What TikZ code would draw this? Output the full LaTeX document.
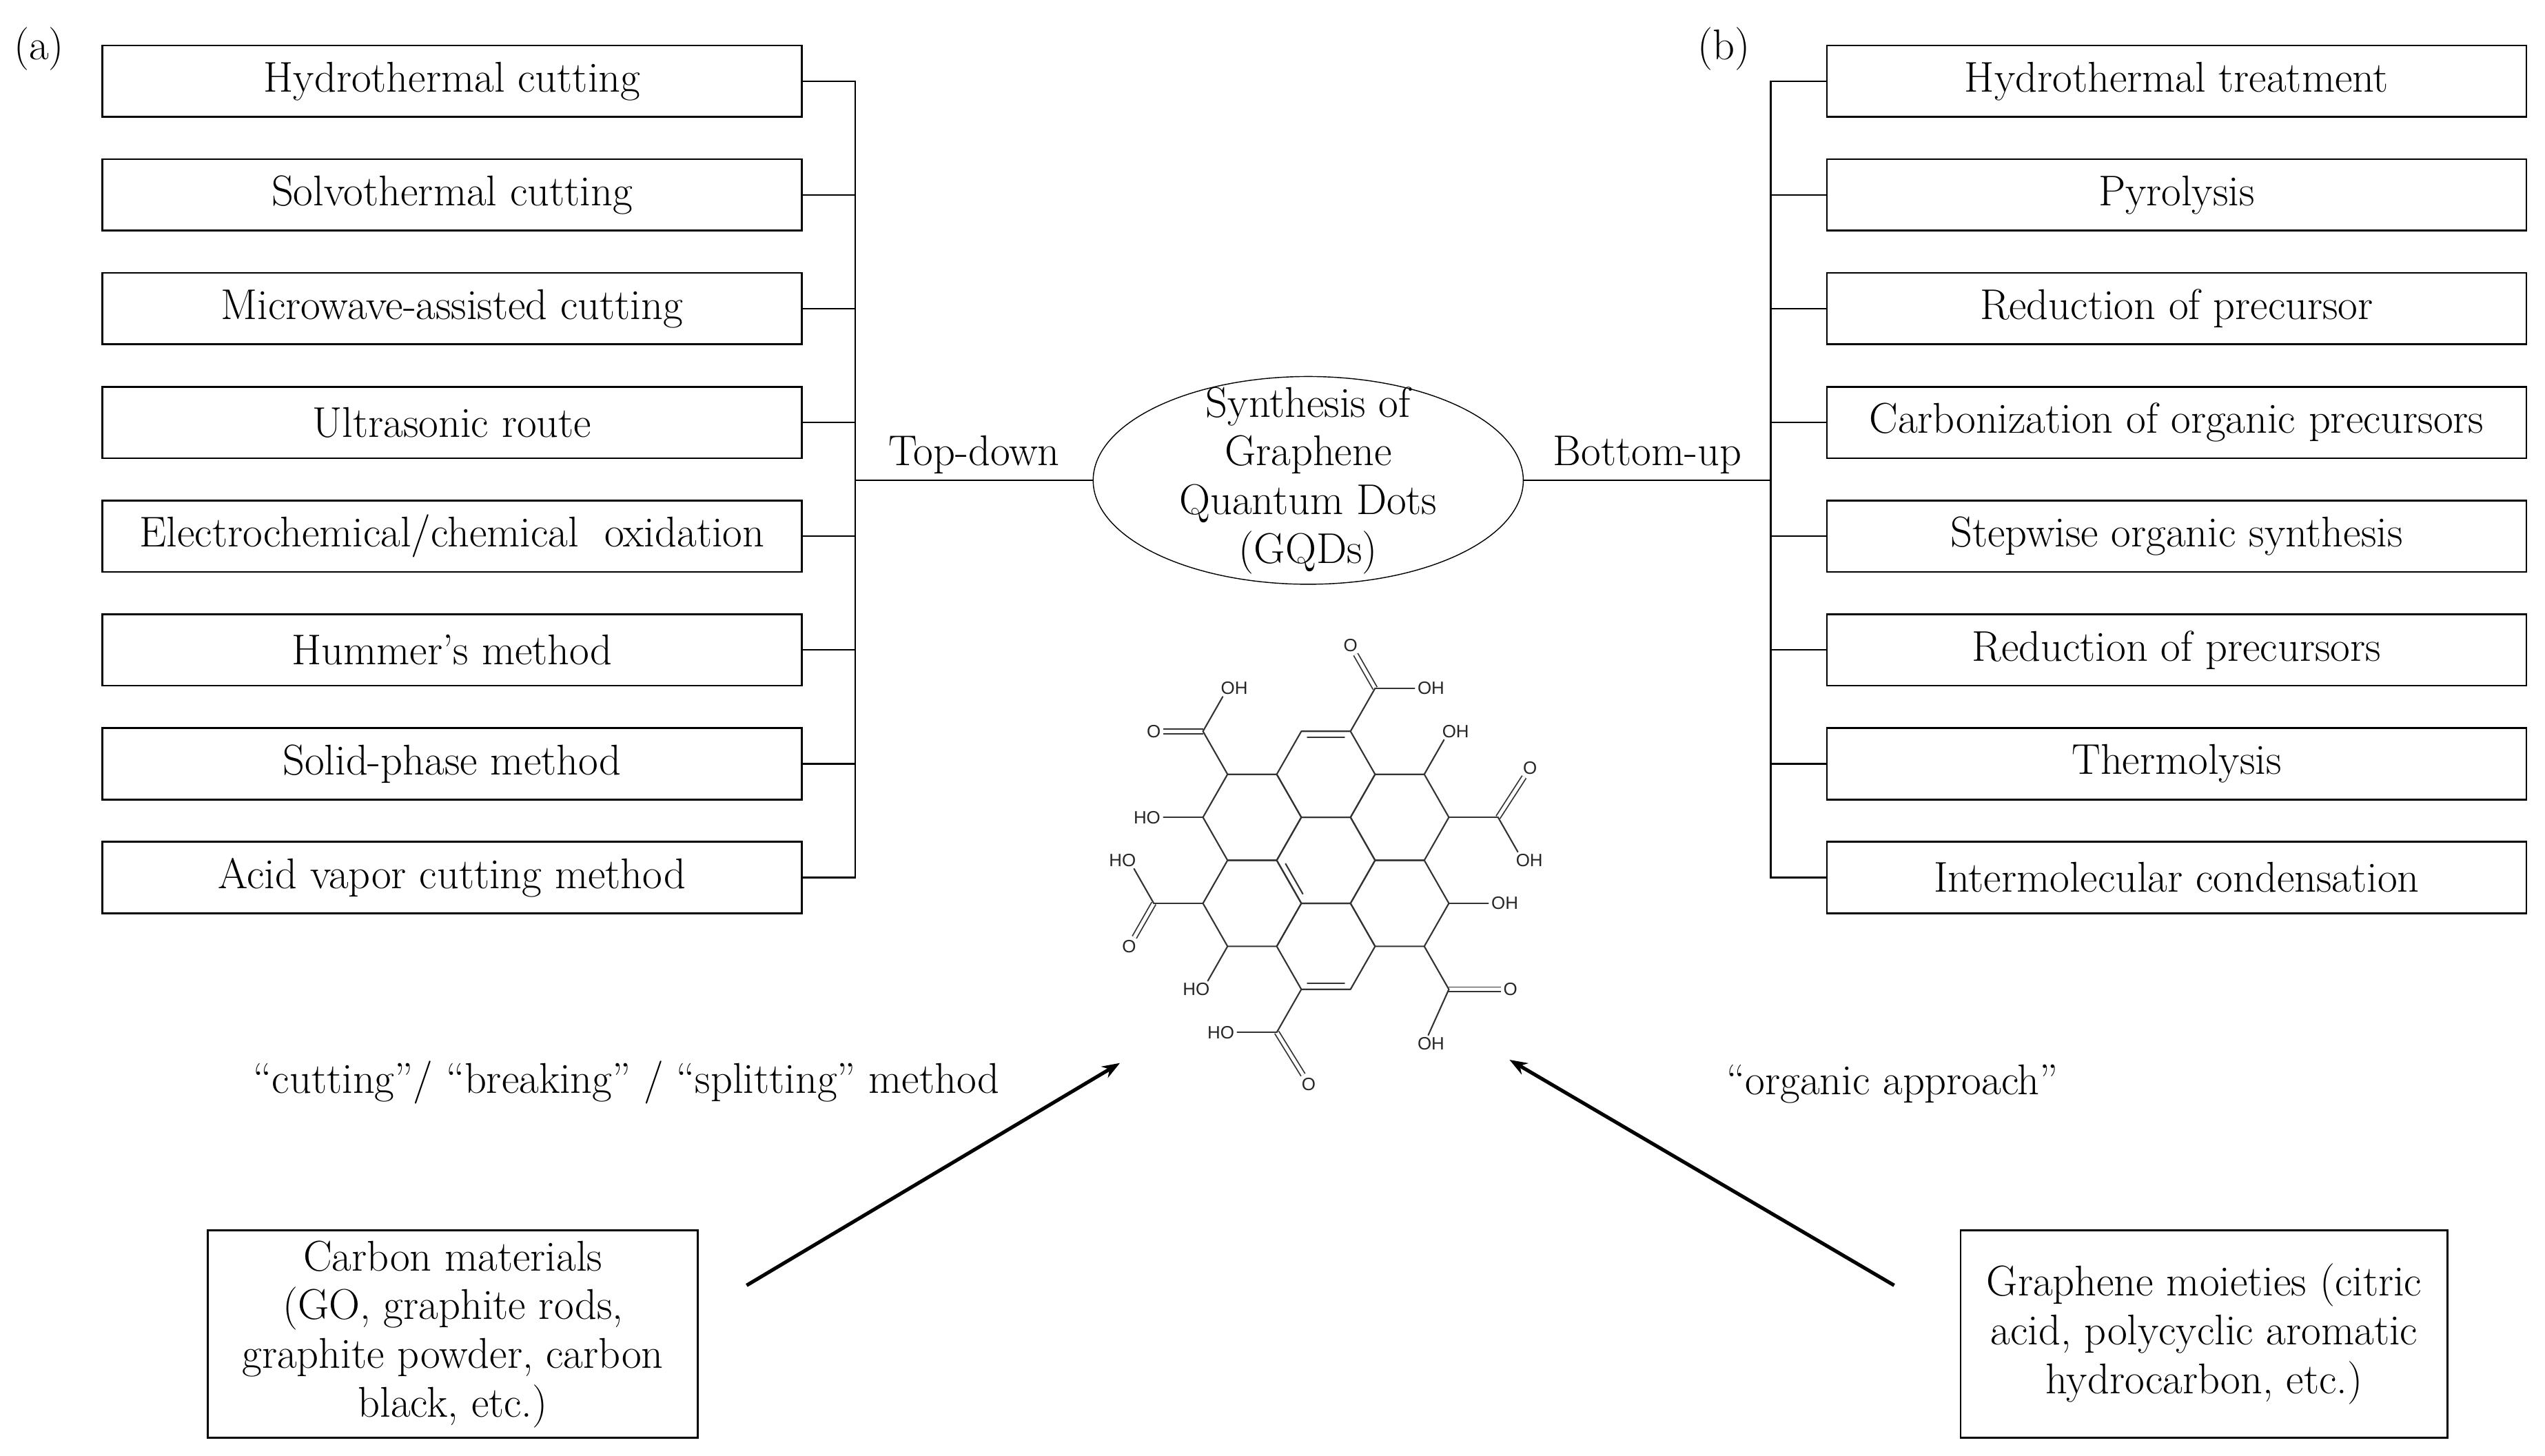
\documentclass[tikz,border=0pt]{standalone}
\usepackage{fontspec}
\newfontfamily\chemfont{Liberation Sans}
\usetikzlibrary{positioning,shapes.geometric,arrows.meta}

\begin{document}
\begin{tikzpicture}[x=1pt, y=-1pt, node distance=25pt,
  every node/.style = {font=\fontsize{26.5}{30}\selectfont},
  method/.style = {shape=rectangle, draw, line width=1.1pt, minimum width=431pt, minimum height=44pt, inner sep=0pt},
  source/.style = {shape=rectangle, draw, line width=1.1pt, minimum height=128pt, inner sep=0pt, align=center},
  link/.style = {line width=1pt},
  route/.style = {line width=2.2pt, -{Stealth[length=11pt, width=8pt]}},
  bond/.style = {line width=0.9pt, black!80, line cap=round},
  dbond/.style = {black!80, double, double distance=2.1pt, line width=0.75pt},
  atom/.style = {font=\chemfont\fontsize{11}{11}\selectfont, inner sep=1.5pt, text=black!85},
  oh/.style = {atom, anchor=west, xshift=-5.8pt},
  ho/.style = {atom, anchor=east, xshift=5.8pt}]

\useasboundingbox (0,0) rectangle (1568,897);

% top-down routes
\node[method] (l1) at (278.5,50) {Hydrothermal cutting};
\node[method, below=of l1] (l2) {Solvothermal cutting};
\node[method, below=of l2] (l3) {Microwave-assisted cutting};
\node[method, below=of l3] (l4) {Ultrasonic route};
\node[method, below=of l4] (l5) {Electrochemical/chemical\ \ oxidation};
\node[method, below=of l5] (l6) {Hummer’s method};
\node[method, below=of l6] (l7) {Solid-phase method};
\node[method, below=of l7] (l8) {Acid vapor cutting method};

% bottom-up routes
\node[method] (r1) at (1341,50) {Hydrothermal treatment};
\node[method, below=of r1] (r2) {Pyrolysis};
\node[method, below=of r2] (r3) {Reduction of precursor};
\node[method, below=of r3] (r4) {Carbonization of organic precursors};
\node[method, below=of r4] (r5) {Stepwise organic synthesis};
\node[method, below=of r5] (r6) {Reduction of precursors};
\node[method, below=of r6] (r7) {Thermolysis};
\node[method, below=of r7] (r8) {Intermolecular condensation};

\node[ellipse, draw, line width=0.6pt, minimum width=265pt, minimum height=128pt,
  inner xsep=0pt, inner ysep=-14pt, align=center] (gqd) at (806,296)
  {Synthesis of\\Graphene\\Quantum Dots\\(GQDs)};

\node (tagA) at (24,30) {(a)};
\node (tagB) at (1062,30) {(b)};

% brackets
\coordinate (lspine) at (527,296);
\coordinate (rspine) at (1091,296);
\draw[link] (l1.east) -- (l1.east -| lspine) -- (l8.east -| lspine) -- (l8.east);
\foreach \i in {2,...,7} \draw[link] (l\i.east) -- (l\i.east -| lspine);
\draw[link] (r1.west) -- (r1.west -| rspine) -- (r8.west -| rspine) -- (r8.west);
\foreach \i in {2,...,7} \draw[link] (r\i.west) -- (r\i.west -| rspine);
\draw[link] (lspine) -- node[above] {Top-down} (gqd.west);
\draw[link] (gqd.east) -- node[above] {Bottom-up} (rspine);

% sources
\node (cutting) at (386,667) {“cutting”/ “breaking” / “splitting” method};
\node (organic) at (1166,668) {“organic approach”};
\node[source, minimum width=302pt] (carbon) at (279,822)
  {Carbon materials\\(GO, graphite rods,\\graphite powder, carbon\\black, etc.)};
\node[source, minimum width=300pt] (moiety) at (1358,822)
  {Graphene moieties (citric\\acid, polycyclic aromatic\\hydrocarbon, etc.)};
\coordinate (cutStart) at (460,792);
\coordinate (cutEnd) at (690,655);
\coordinate (orgStart) at (1167,792);
\coordinate (orgEnd) at (930,653);
\draw[route] (cutStart) -- (cutEnd);
\draw[route] (orgStart) -- (orgEnd);

% graphene quantum dot
\begin{scope}[shift={(816.9,530.1)}, x=15.15pt, y=-26.5pt]
  \coordinate (c1) at (-5,-3);
  \coordinate (c3) at (-7,1);
  \coordinate (c5) at (-2,4);
  \coordinate (c6) at (5,3);
  \coordinate (c8) at (7,-1);
  \coordinate (c10) at (2,-4);
  \node[atom] (o1) at (-7,-3) {O};
  \node[atom] (o3) at (-8,2) {O};
  \node[atom] (o5) at (-0.7,5.2) {O};
  \node[atom] (o6) at (7.5,3) {O};
  \node[atom] (o8) at (8.3,-2.15) {O};
  \node[atom] (o10) at (1,-5) {O};
  \draw[dbond] (c1) -- (o1);
  \draw[dbond] (c3) -- (o3);
  \draw[dbond] (c5) -- (o5);
  \draw[dbond] (c6) -- (o6);
  \draw[dbond] (c8) -- (o8);
  \draw[dbond] (c10) -- (o10);
  \foreach \cx/\cy in {0/-2, -3/-1, 3/-1, 0/0, -3/1, 3/1, 0/2}
    \draw[bond, line join=round] (\cx-2,\cy) -- (\cx-1,\cy-1) -- (\cx+1,\cy-1)
      -- (\cx+2,\cy) -- (\cx+1,\cy+1) -- (\cx-1,\cy+1) -- cycle;
  \draw[bond] (-0.75,-2.86) -- (0.75,-2.86);
  \draw[bond] (-0.75,2.86) -- (0.75,2.86);
  \draw[bond] (-1.64,0.08) -- (-0.94,0.78);
  % carboxyl and hydroxyl groups
  \draw[bond] (-4,-2) -- (c1);
  \draw[bond] (-5,1) -- (c3);
  \draw[bond] (-1,3) -- (c5);
  \draw[bond] (4,2) -- (c6);
  \draw[bond] (5,-1) -- (c8);
  \draw[bond] (1,-3) -- (c10);
  \node[oh] (oh1) at (-4,-4) {OH};
  \draw[bond, shorten >=6pt] (c1) -- (-4,-4);
  \node[ho] (oh2) at (-7,-1) {HO};
  \draw[bond, shorten >=6pt] (-5,-1) -- (-7,-1);
  \node[ho] (oh3) at (-8,0) {HO};
  \draw[bond, shorten >=6pt] (c3) -- (-8,0);
  \node[ho] (oh4) at (-5,3) {HO};
  \draw[bond, shorten >=6pt] (-4,2) -- (-5,3);
  \node[ho] (oh5) at (-4,4) {HO};
  \draw[bond, shorten >=6pt] (c5) -- (-4,4);
  \node[oh] (oh6) at (4,4.27) {OH};
  \draw[bond, shorten >=6pt] (c6) -- (4,4.27);
  \node[oh] (oh7) at (7,1) {OH};
  \draw[bond, shorten >=6pt] (5,1) -- (7,1);
  \node[oh] (oh8) at (8,0) {OH};
  \draw[bond, shorten >=6pt] (c8) -- (8,0);
  \node[oh] (oh9) at (5,-3) {OH};
  \draw[bond, shorten >=6pt] (4,-2) -- (5,-3);
  \node[oh] (oh10) at (4,-4) {OH};
  \draw[bond, shorten >=6pt] (c10) -- (4,-4);
\end{scope}
\end{tikzpicture}
\end{document}
